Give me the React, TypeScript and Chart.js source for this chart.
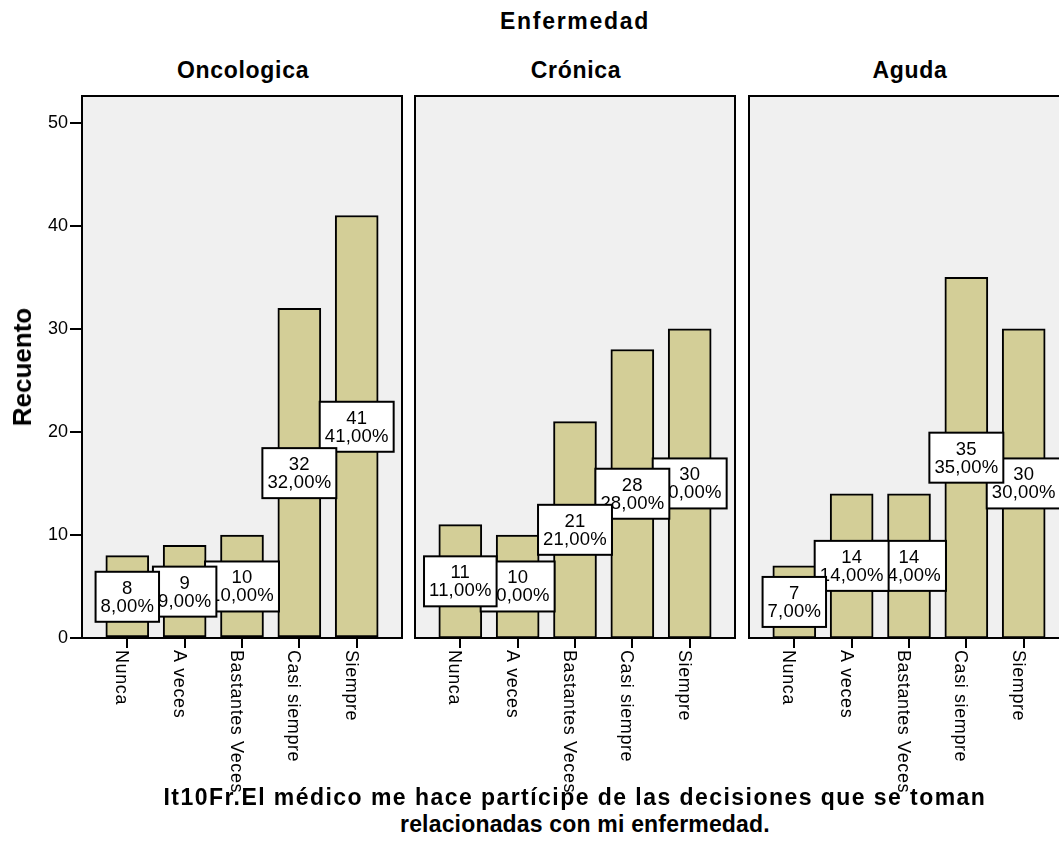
import React, { useEffect, useRef } from 'react';
import { Chart, registerables } from 'chart.js';

Chart.register(...registerables);

// ---------- data ----------
const categories = ['Nunca', 'A veces', 'Bastantes Veces', 'Casi siempre', 'Siempre'];
const panelTitles = ['Oncologica', 'Crónica', 'Aguda'];
const oncologica = [8, 9, 10, 32, 41];
const cronica = [11, 10, 21, 28, 30];
const aguda = [7, 14, 14, 35, 30];
const panelValues = [oncologica, cronica, aguda];
const yTicks = [0, 10, 20, 30, 40, 50];
const mainTitle = 'Enfermedad';
const yTitle = 'Recuento';
const xTitleLine1 = 'It10Fr.El médico me hace partícipe de las decisiones que se toman';
const xTitleLine2 = 'relacionadas con mi enfermedad.';

// ---------- style / layout ----------
const FONT = "'Liberation Sans', Arial, Helvetica, sans-serif";
const BAR_COLOR = '#d3ce97';
const PANEL_BG = '#f0f0f0';
const PANEL_LEFTS = [82, 415, 749];
const PANEL_W = 320;
const CANVAS_TOP = 92;
const CANVAS_H = 718;
const Y_MAX = 52.6;
const X_MIN = -0.79;
const X_MAX = 4.79;

function Panel({ idx }: { idx: number }) {
  const ref = useRef<HTMLCanvasElement>(null);
  const showY = idx === 0;
  const canvasLeft = showY ? 0 : PANEL_LEFTS[idx] - 4;
  const canvasW = showY ? PANEL_LEFTS[0] + PANEL_W + 4 : PANEL_W + 8;

  useEffect(() => {
    const values = panelValues[idx];
    const total = values.reduce((a, b) => a + b, 0);
    const plugin = {
      id: 'spssPanel',
      beforeDraw(chart: any) {
        const { ctx, chartArea: a } = chart;
        ctx.save();
        ctx.fillStyle = PANEL_BG;
        ctx.fillRect(a.left, a.top, a.right - a.left, a.bottom - a.top);
        ctx.restore();
      },
      afterDatasetsDraw(chart: any) {
        const { ctx, chartArea: a, scales } = chart;
        ctx.save();
        ctx.strokeStyle = '#000';
        ctx.lineWidth = 2;
        ctx.strokeRect(a.left, a.top, a.right - a.left, a.bottom - a.top);
        ctx.font = `18.5px ${FONT}`;
        try { (ctx as any).letterSpacing = '0.2px'; } catch (e) {}
        ctx.textAlign = 'center';
        ctx.textBaseline = 'alphabetic';
        for (let i = values.length - 1; i >= 0; i--) {
          const v = values[i];
          const cx = scales.x.getPixelForValue(i);
          const cy = scales.y.getPixelForValue(v / 2);
          const l1 = String(v);
          const l2 = ((v / total) * 100).toFixed(2).replace('.', ',') + '%';
          const w = Math.max(ctx.measureText(l1).width, ctx.measureText(l2).width) + 10;
          const h = 50;
          ctx.fillStyle = '#ffffff';
          ctx.fillRect(cx - w / 2, cy - h / 2, w, h);
          ctx.strokeStyle = '#000';
          ctx.lineWidth = 2;
          ctx.strokeRect(cx - w / 2, cy - h / 2, w, h);
          ctx.fillStyle = '#000';
          ctx.fillText(l1, cx, cy - 3);
          ctx.fillText(l2, cx, cy + 15);
        }
        ctx.restore();
      },
      afterDraw(chart: any) {
        const { ctx, scales, chartArea: a } = chart;
        ctx.save();
        ctx.font = `18px ${FONT}`;
        try { (ctx as any).letterSpacing = '0.6px'; } catch (e) {}
        ctx.fillStyle = '#000';
        ctx.textAlign = 'left';
        ctx.textBaseline = 'alphabetic';
        categories.forEach((c, i) => {
          const x = scales.x.getPixelForValue(i);
          ctx.save();
          ctx.translate(x, a.bottom + 12);
          ctx.rotate(Math.PI / 2);
          ctx.fillText(c, 0, 11);
          ctx.restore();
        });
        ctx.restore();
      },
    };

    const chart = new Chart(ref.current as HTMLCanvasElement, {
      type: 'bar',
      data: {
        datasets: [
          {
            data: values.map((v, i) => ({ x: i, y: v })),
            backgroundColor: BAR_COLOR,
            borderColor: '#000',
            borderWidth: 2,
            borderSkipped: false,
            barThickness: 43,
          } as any,
        ],
      },
      options: {
        animation: false,
        responsive: false,
        devicePixelRatio: 1,
        layout: { padding: { left: showY ? 0 : 4, right: 4, top: 4, bottom: 160 } },
        plugins: { legend: { display: false }, tooltip: { enabled: false }, title: { display: false } },
        scales: {
          x: {
            type: 'linear',
            min: X_MIN,
            max: X_MAX,
            offset: false,
            afterBuildTicks: (s: any) => { s.ticks = categories.map((_, i) => ({ value: i })); },
            afterFit: (s: any) => {
              s.height = 12;
              s.paddingLeft = 0; s.paddingRight = 0; s.paddingTop = 0; s.paddingBottom = 0;
            },
            ticks: { display: false },
            grid: { offset: false, drawOnChartArea: false, drawTicks: true, tickLength: 10, color: '#000', lineWidth: 2 },
            border: { display: false },
          },
          y: {
            display: showY,
            min: 0,
            max: Y_MAX,
            afterBuildTicks: (s: any) => { s.ticks = yTicks.map((v) => ({ value: v })); },
            afterFit: (s: any) => {
              s.width = showY ? PANEL_LEFTS[0] : 0;
              s.paddingLeft = 0; s.paddingRight = 0; s.paddingTop = 0; s.paddingBottom = 0;
            },
            ticks: { font: { family: FONT, size: 18 }, color: '#000', padding: 2 },
            grid: { offset: false, drawOnChartArea: false, drawTicks: true, tickLength: 12, color: '#000', lineWidth: 2 },
            border: { display: false },
          },
        },
      } as any,
      plugins: [plugin],
    });
    return () => chart.destroy();
  }, [idx]);

  return (
    <canvas
      ref={ref}
      width={canvasW}
      height={CANVAS_H}
      style={{ position: 'absolute', left: canvasLeft, top: CANVAS_TOP, width: canvasW, height: CANVAS_H, display: 'block' }}
    />
  );
}

const boldText = (size: number, ls: number): React.CSSProperties => ({
  position: 'absolute',
  fontFamily: FONT,
  fontWeight: 'bold',
  fontSize: size,
  lineHeight: `${size}px`,
  letterSpacing: `${ls}px`,
  whiteSpace: 'nowrap',
  color: '#000',
});

export default function App() {
  return (
    <div
      style={{ position: 'fixed', left: 0, top: 0, width: 1059, height: 841, overflow: 'hidden', background: '#fff' }}
    >
      {panelTitles.map((_, i) => (
        <Panel key={i} idx={i} />
      ))}
      <div style={{ ...boldText(23, 1.7), left: 500, top: 10 }}>{mainTitle}</div>
      {panelTitles.map((t, i) => (
        <div
          key={t}
          style={{
            ...boldText(23, 0.7),
            left: PANEL_LEFTS[i] + PANEL_W / 2 + 1,
            top: 58.5,
            transform: 'translateX(-50%)',
          }}
        >
          {t}
        </div>
      ))}
      <div
        style={{
          ...boldText(26, 0),
          left: 22,
          top: 367,
          transform: 'translate(-50%, -50%) rotate(-90deg)',
        }}
      >
        {yTitle}
      </div>
      <div style={{ ...boldText(23, 1.45), left: 163.5, top: 785.5 }}>{xTitleLine1}</div>
      <div style={{ ...boldText(23, 0.18), left: 400, top: 812.5 }}>{xTitleLine2}</div>
    </div>
  );
}
